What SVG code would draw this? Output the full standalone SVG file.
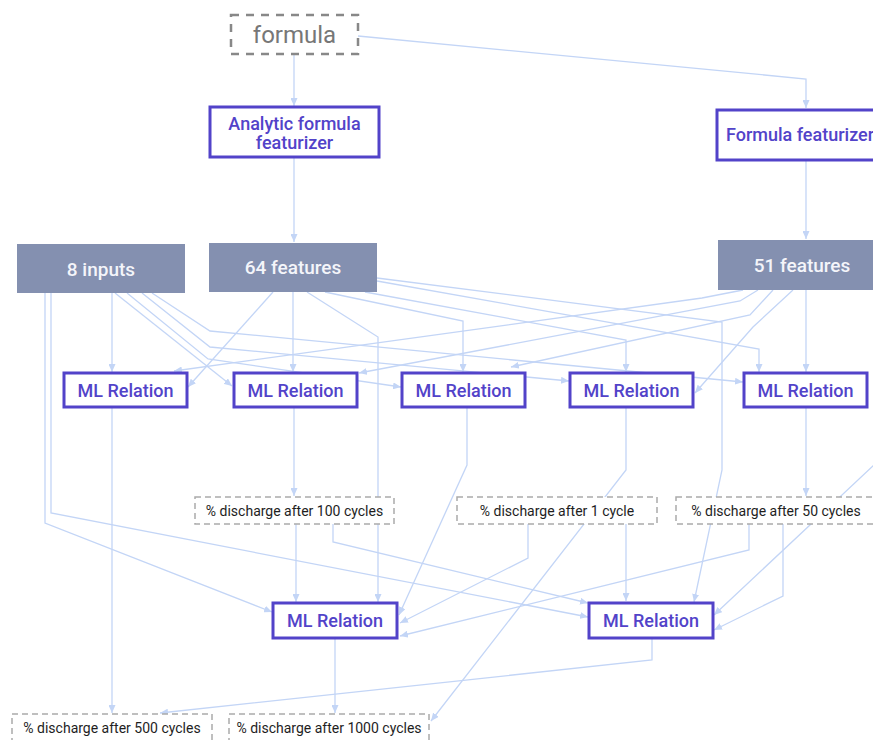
<svg xmlns="http://www.w3.org/2000/svg" width="873" height="740" viewBox="0 0 873 740">
<style>
.e{fill:none;stroke:#c3d5f6;stroke-width:1.3;marker-end:url(#a)}
.fn{fill:#8490b0}
.ft{fill:#f4f5fa;font-family:Roboto,"Liberation Sans",sans-serif;font-size:19px;font-weight:500;text-anchor:middle}
.ml{fill:#fff;stroke:#5243c9;stroke-width:3}
.mt{fill:#5243c9;font-family:Roboto,"Liberation Sans",sans-serif;font-size:18px;font-weight:500;text-anchor:middle}
.db{fill:#fff;stroke:#aaa;stroke-width:1.5;stroke-dasharray:6 4}
.dt{fill:#1e1e1e;font-family:Roboto,"Liberation Sans",sans-serif;font-size:14px;font-weight:400;text-anchor:middle}
</style>
<defs>
<marker id="a" markerUnits="userSpaceOnUse" markerWidth="8" markerHeight="7" refX="8" refY="3.5" orient="auto">
<path d="M0,0 L8,3.5 L0,7 z" fill="#c3d5f6"/>
</marker>
</defs>
<rect width="873" height="740" fill="#fff"/>
<g id="connectors">
<path class="e" d="M294 55 L294 106"/>
<path class="e" d="M358 36 L806 79 L806 108"/>
<path class="e" d="M294 157 L294 242"/>
<path class="e" d="M806 160 L806 239"/>
<path class="e" d="M112 293 L112 372"/>
<path class="e" d="M115 293 L232 386"/>
<path class="e" d="M127 293 L208 359 L401 387"/>
<path class="e" d="M142 293 L210 347 L569 381"/>
<path class="e" d="M152 293 L210 331 L743 382"/>
<path class="e" d="M45 293 L45 523 L272 612"/>
<path class="e" d="M51 293 L51 513 L588 617"/>
<path class="e" d="M273 292 L188 387"/>
<path class="e" d="M293 292 L293 372"/>
<path class="e" d="M307 292 L378 337 L378 602"/>
<path class="e" d="M325 292 L463 321 L463 372"/>
<path class="e" d="M365 292 L626 340 L626 372"/>
<path class="e" d="M377 281 L759 349 L759 372"/>
<path class="e" d="M377 278 L722 322 L722 470 L694 602"/>
<path class="e" d="M743 290 L702 298 L174 371"/>
<path class="e" d="M758 290 L740 301 L359 373"/>
<path class="e" d="M773 290 L750 315 L511 367"/>
<path class="e" d="M793 290 L753 327 L695 393"/>
<path class="e" d="M806 290 L806 372"/>
<path class="e" d="M890 290 L890 450 L714 615"/>
<path class="e" d="M112 407 L112 713"/>
<path class="e" d="M294 407 L294 496"/>
<path class="e" d="M467 407 L467 465 L399 615"/>
<path class="e" d="M626 407 L626 470 L431 721"/>
<path class="e" d="M806 408 L806 496"/>
<path class="e" d="M296 524 L296 602"/>
<path class="e" d="M333 524 L333 542 L588 603"/>
<path class="e" d="M528 524 L528 558 L400 623"/>
<path class="e" d="M626 524 L626 601"/>
<path class="e" d="M749 524 L749 550 L400 636"/>
<path class="e" d="M783 524 L783 596 L714 630"/>
<path class="e" d="M335 638 L335 713"/>
<path class="e" d="M652 638 L652 660 L160 713"/>
</g>
<g id="formula">
<rect x="231" y="15" width="127" height="39" fill="#fff" stroke="#888" stroke-width="2.5" stroke-dasharray="8 7"/>
<text x="294.5" y="43" fill="#777" font-family="Roboto,'Liberation Sans',sans-serif" font-size="24" text-anchor="middle">formula</text>
</g>
<g id="analytic-featurizer">
<rect class="ml" x="210" y="107" width="169" height="50"/>
<text class="mt" x="294.5" y="130">Analytic formula</text>
<text class="mt" x="294.5" y="149">featurizer</text>
</g>
<g id="formula-featurizer">
<rect class="ml" x="717" y="110" width="180" height="50"/>
<text class="mt" x="800" y="141">Formula featurizer</text>
</g>
<g id="inputs8">
<rect class="fn" x="17" y="244" width="168" height="49"/>
<text class="ft" x="101" y="276">8 inputs</text>
</g>
<g id="features64">
<rect class="fn" x="209" y="243" width="168" height="49"/>
<text class="ft" x="293" y="274">64 features</text>
</g>
<g id="features51">
<rect class="fn" x="718" y="240" width="170" height="50"/>
<text class="ft" x="802" y="272">51 features</text>
</g>
<g id="ml1"><rect class="ml" x="64" y="373" width="123" height="34"/><text class="mt" x="125.5" y="397">ML Relation</text></g>
<g id="ml2"><rect class="ml" x="234" y="373" width="123" height="34"/><text class="mt" x="295.5" y="397">ML Relation</text></g>
<g id="ml3"><rect class="ml" x="402" y="373" width="123" height="34"/><text class="mt" x="463.5" y="397">ML Relation</text></g>
<g id="ml4"><rect class="ml" x="570" y="373" width="123" height="34"/><text class="mt" x="631.5" y="397">ML Relation</text></g>
<g id="ml5"><rect class="ml" x="744" y="373" width="123" height="34"/><text class="mt" x="805.5" y="397">ML Relation</text></g>
<g id="d100"><rect class="db" x="195" y="497" width="199" height="27"/><text class="dt" x="294.5" y="515.5">% discharge after 100 cycles</text></g>
<g id="d1"><rect class="db" x="457" y="497" width="200" height="27"/><text class="dt" x="557" y="515.5">% discharge after 1 cycle</text></g>
<g id="d50"><rect class="db" x="676" y="497" width="200" height="27"/><text class="dt" x="776" y="515.5">% discharge after 50 cycles</text></g>
<g id="ml6"><rect class="ml" x="273" y="603" width="124" height="35"/><text class="mt" x="335" y="627">ML Relation</text></g>
<g id="ml7"><rect class="ml" x="589" y="603" width="124" height="35"/><text class="mt" x="651" y="627">ML Relation</text></g>
<g id="d500"><rect class="db" x="12" y="714" width="200" height="30"/><text class="dt" x="112" y="732.5">% discharge after 500 cycles</text></g>
<g id="d1000"><rect class="db" x="229" y="714" width="200" height="30"/><text class="dt" x="329" y="732.5">% discharge after 1000 cycles</text></g>
</svg>
